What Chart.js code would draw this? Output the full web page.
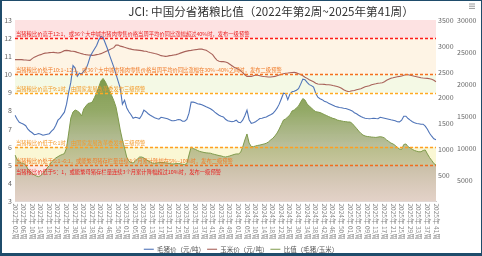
<!DOCTYPE html>
<html>
<head>
<meta charset="utf-8">
<script src="https://cdn.jsdelivr.net/npm/chart.js@4.4.1/dist/chart.umd.min.js"></script>
<style>
html, body { margin: 0; padding: 0; background: #fff; }
#wrap { position: relative; width: 482px; height: 256px; }
#frame { position: absolute; left: 0; top: 0; right: 0; bottom: 0; border-style: solid; border-color: #1f4c6b; border-width: 1px 1px 3px 2px; pointer-events: none; }
</style>
</head>
<body>
<div id="wrap"><canvas id="grafica" width="482" height="256"></canvas><div id="frame"></div></div>
<script>
// weeks: [year, first week, last week, skipped weeks]
var tramos = [[2022, 2, 53, []], [2023, 1, 52, []], [2024, 1, 53, [6]], [2025, 1, 41, []]];
var semanas = [];
tramos.forEach(t => {
    for (var w = t[1]; w <= t[2]; w++) {
        if (t[3].indexOf(w) >= 0) continue;
        semanas.push(t[0] + "年 " + (w < 10 ? "0" + w : w) + "周");
    }
});

// 毛猪价 (元/吨)
var precioCerdo = [
    15160, 14530, 14060, 13900, 13750, 13520, 12970, 12660, 12420, 12110,
    12190, 12290, 12190, 12030, 12110, 12190, 12270, 12660, 12970, 13590,
    14380, 14690, 15160, 15630, 16880, 18750, 20310, 22890, 22500, 21250,
    21720, 21560, 22030, 22340, 23200, 24300, 24920, 25470, 26020, 26880,
    27420, 27270, 26410, 25550, 24530, 23590, 22660, 21560, 20470, 19380,
    16880, 17500, 16330, 15700, 15230, 14690, 14840, 14770, 14640, 15160,
    15940, 15700, 15390, 15160, 14950, 14770, 14640, 14530, 14840, 14770,
    14690, 14610, 14450, 14300, 14300, 14380, 14480, 14450, 14220, 14220,
    14480, 15470, 17190, 17190, 17110, 16950, 16880, 16800, 16640, 16480,
    16330, 16170, 15940, 15630, 15390, 15160, 15000, 14890, 14530, 14300,
    14220, 14140, 14220, 14380, 14060, 13980, 14380, 15080, 15940, 14450,
    13900, 13980, 14140, 14380, 14640, 14690, 14800, 14890, 15080, 15230,
    15420, 15780, 16250, 16880, 17730, 18590, 18520, 17580, 18440, 18830,
    18900, 19060, 19300, 20000, 20780, 20700, 20270, 19920, 19770, 19530,
    18590, 17970, 17730, 17580, 17340, 17230, 17030, 16880, 16720, 16560,
    16450, 16360, 16330, 16250, 16200, 16090, 15980, 15830, 15550, 15390,
    15160, 14950, 14800, 14690, 14640, 14610, 14640, 14690, 14640, 14610,
    14840, 14770, 14690, 14610, 14530, 14450, 14380, 14300, 14140, 14110,
    14380, 15000, 15000, 14640, 14380, 14140, 13980, 13860, 13830, 13750,
    13750, 13440, 12970, 12340, 11880, 11480, 11330
];

// 玉米价 (元/吨)
var precioMaiz = [
    2735, 2735, 2735, 2735, 2731, 2729, 2725, 2722, 2755, 2784,
    2803, 2822, 2832, 2851, 2861, 2865, 2870, 2874, 2876, 2870,
    2865, 2870, 2890, 2909, 2915, 2909, 2900, 2896, 2890, 2876,
    2865, 2851, 2841, 2832, 2826, 2822, 2818, 2822, 2832, 2841,
    2851, 2870, 2890, 2909, 2928, 2948, 2967, 3015, 3019, 2996,
    2986, 2973, 2961, 2948, 2938, 2928, 2923, 2919, 2915, 2909,
    2900, 2896, 2884, 2874, 2865, 2855, 2846, 2832, 2813, 2807,
    2799, 2803, 2813, 2818, 2826, 2832, 2846, 2861, 2876, 2890,
    2900, 2909, 2915, 2923, 2928, 2934, 2942, 2938, 2928, 2915,
    2890, 2861, 2832, 2774, 2726, 2703, 2697, 2697, 2690, 2677,
    2648, 2619, 2590, 2571, 2552, 2523, 2484, 2445, 2412, 2412,
    2412, 2426, 2439, 2435, 2426, 2416, 2410, 2407, 2401, 2401,
    2407, 2412, 2426, 2439, 2451, 2465, 2474, 2478, 2484, 2488,
    2490, 2480, 2465, 2449, 2426, 2397, 2374, 2349, 2329, 2310,
    2281, 2265, 2262, 2262, 2258, 2252, 2252, 2246, 2236, 2227,
    2217, 2204, 2184, 2155, 2136, 2122, 2126, 2136, 2142, 2155,
    2165, 2175, 2194, 2213, 2223, 2233, 2252, 2262, 2271, 2281,
    2285, 2291, 2310, 2339, 2358, 2378, 2387, 2397, 2407, 2412,
    2420, 2435, 2445, 2445, 2435, 2426, 2416, 2407, 2397, 2387,
    2381, 2378, 2374, 2368, 2358, 2339, 2310
];

// 比值 (毛猪/玉米)
var razon = [
    5.56, 5.31, 5.18, 5.12, 5.10, 5.01, 4.79, 4.68, 4.54, 4.46,
    4.40, 4.37, 4.43, 4.54, 4.68, 4.85, 4.98, 5.18, 5.29, 5.40,
    5.47, 5.54, 5.59, 5.64, 5.95, 6.77, 7.60, 7.93, 8.04, 7.99,
    7.90, 7.71, 8.10, 8.26, 8.40, 8.43, 8.48, 8.73, 8.98, 9.31,
    9.64, 9.78, 9.61, 9.36, 9.12, 8.84, 8.56, 8.21, 7.60, 6.94,
    6.39, 5.95, 5.45, 5.23, 5.15, 5.12, 5.23, 5.34, 5.45, 5.45,
    5.40, 5.31, 5.23, 5.18, 5.12, 5.10, 5.12, 5.14, 5.15, 5.15,
    5.13, 5.12, 5.09, 5.07, 5.07, 5.09, 5.09, 5.08, 5.05, 5.04,
    5.09, 5.56, 6.00, 5.92, 5.87, 5.81, 5.76, 5.73, 5.70, 5.68,
    5.67, 5.66, 5.62, 5.59, 5.56, 5.53, 5.51, 5.47, 5.45, 5.48,
    5.51, 5.55, 5.59, 5.62, 5.62, 5.70, 6.00, 6.39, 6.72, 6.22,
    6.03, 6.02, 6.06, 6.09, 6.11, 6.14, 6.17, 6.21, 6.28, 6.39,
    6.48, 6.61, 6.77, 6.99, 7.24, 7.49, 7.55, 7.66, 7.77, 7.99,
    8.04, 8.15, 8.26, 8.48, 8.67, 8.59, 8.37, 8.26, 8.15, 8.04,
    7.95, 7.93, 7.90, 7.85, 7.79, 7.74, 7.68, 7.63, 7.58, 7.55,
    7.49, 7.46, 7.44, 7.41, 7.40, 7.38, 7.38, 7.30, 7.16, 7.03,
    6.88, 6.76, 6.66, 6.61, 6.58, 6.57, 6.55, 6.54, 6.53, 6.55,
    6.57, 6.55, 6.50, 6.39, 6.31, 6.22, 6.17, 6.09, 5.98, 5.89,
    5.87, 6.14, 6.17, 6.02, 5.95, 5.87, 5.81, 5.77, 5.74, 5.74,
    5.81, 5.84, 5.62, 5.42, 5.26, 5.09, 5.01
];

var ticksCerdo = [5000, 10000, 15000, 20000, 25000, 30000];

// warning bands on the ratio axis: [from, to, colour]
var franjas = [
    [12, 13, 'rgba(253,226,226,1)'],
    [10, 12, 'rgba(254,244,229,1)'],
    [9, 10, 'rgba(244,249,229,1)'],
    [5, 6, 'rgba(250,247,212,1)'],
    [3, 5, 'rgba(252,232,228,1)']
];
// warning lines: [value, line colour, text colour, text, text above(1)/below(-1)]
var avisos = [
    [12, '#ff1a1a', '#e82020', '当猪粮比价高于12:1，或36个大中城市猪肉零售价格当周平均价同比涨幅超过40%时，发布一级预警', 1],
    [10, '#f5701e', '#f07a28', '当猪粮比价处于10:1~12:1，或36个大中城市猪肉零售价格当周平均价同比涨幅在30%~40%之间时，发布二级预警', 1],
    [9, '#ffaa22', '#f39a2a', '当猪粮比价高于9:1时，由国家发展改革委发布三级预警', 1],
    [6, '#ffa020', '#f39a2a', '当猪粮比价低于6:1时，由国家发展改革委发布三级预警', 1],
    [5, '#f06e1e', '#f07a28', '当猪粮比价处于5:1~6:1，或能繁母猪存栏量连续3个月累计降幅在5%~10%时，发布二级预警', 1],
    [5, null, '#e82020', '当猪粮比价低于5：1，或能繁母猪存栏量连续3个月累计降幅超过10%时，发布一级预警', -1]
];

var fuente = '"Noto Sans CJK SC", "Noto Sans", sans-serif';
Chart.defaults.font.family = fuente;

var avisosPlugin = {
    id: 'avisos',
    beforeDatasetsDraw(chart) {
        var ctx = chart.ctx, a = chart.chartArea, y = chart.scales.y;
        ctx.save();
        franjas.forEach(f => {
            var y1 = y.getPixelForValue(f[1]), y0 = y.getPixelForValue(f[0]);
            ctx.fillStyle = f[2];
            ctx.fillRect(a.left, y1, a.right - a.left, y0 - y1);
        });
        ctx.restore();
    },
    afterDatasetsDraw(chart) {
        var ctx = chart.ctx, a = chart.chartArea, y = chart.scales.y;
        ctx.save();
        avisos.forEach(v => {
            var py = Math.round(y.getPixelForValue(v[0])) + 0.5;
            if (v[1]) {
                ctx.strokeStyle = v[1];
                ctx.lineWidth = 1.6;
                ctx.setLineDash([3, 2]);
                ctx.beginPath();
                ctx.moveTo(a.left, py);
                ctx.lineTo(a.right, py);
                ctx.stroke();
            }
            ctx.font = '5.3px ' + fuente;
            ctx.fillStyle = v[2];
            ctx.textAlign = 'left';
            ctx.textBaseline = 'middle';
            ctx.fillText(v[3], a.left + 1, py - v[4] * 4.5 + (v[4] < 0 ? 1.5 : 0));
        });
        ctx.restore();
    },
    afterDraw(chart) {
        var ctx = chart.ctx, x = chart.scales.x;
        ctx.save();
        // title
        ctx.font = '11.6px ' + fuente;
        ctx.fillStyle = '#333';
        ctx.textAlign = 'center';
        ctx.textBaseline = 'middle';
        ctx.fillText('JCI: 中国分省猪粮比值（2022年第2周~2025年第41周）', 271, 12);
        // week labels, rotated downwards
        ctx.font = '6.5px ' + fuente;
        ctx.fillStyle = '#888';
        ctx.textAlign = 'left';
        semanas.forEach((s, i) => {
            if (i % 4) return;
            ctx.save();
            ctx.translate(x.getPixelForValue(i), x.top + 2);
            ctx.rotate(Math.PI / 2);
            ctx.fillText(s, 0, 0);
            ctx.restore();
        });
        // menu icon
        ctx.fillStyle = '#999';
        for (var k = 0; k < 3; k++) ctx.fillRect(469, 3.5 + k * 2.2, 6, 1);
        ctx.restore();
    }
};

var degradado = function(c) {
    var chart = c.chart, a = chart.chartArea;
    if (!a) return 'rgba(120,150,60,0.6)';
    var g = chart.ctx.createLinearGradient(0, a.top, 0, a.bottom);
    g.addColorStop(0, 'rgba(75,115,15,0.92)');
    g.addColorStop(0.5, 'rgba(110,140,50,0.74)');
    g.addColorStop(0.8, 'rgba(150,150,105,0.5)');
    g.addColorStop(1, 'rgba(170,160,135,0.3)');
    return g;
};

new Chart(document.getElementById('grafica'), {
    type: 'line',
    data: {
        labels: semanas,
        datasets: [
            {
                label: '毛猪价（元/吨）',
                data: precioCerdo,
                yAxisID: 'y2',
                borderColor: '#4f74b8',
                backgroundColor: '#4f74b8',
                borderWidth: 1.1,
                pointRadius: 0,
                fill: false
            },
            {
                label: '玉米价（元/吨）',
                data: precioMaiz,
                yAxisID: 'y1',
                borderColor: '#a8625a',
                backgroundColor: '#a8625a',
                borderWidth: 1.1,
                pointRadius: 0,
                fill: false
            },
            {
                label: '比值（毛猪/玉米）',
                data: razon,
                yAxisID: 'y',
                borderColor: '#7f9a4c',
                backgroundColor: degradado,
                borderWidth: 1,
                pointRadius: 0,
                fill: 'start'
            }
        ]
    },
    options: {
        responsive: false,
        animation: false,
        layout: { padding: { top: 20, left: 0, right: 0, bottom: 0 } },
        plugins: {
            tooltip: { enabled: false },
            legend: {
                position: 'bottom',
                maxHeight: 12,
                labels: {
                    usePointStyle: true,
                    pointStyle: 'line',
                    pointStyleWidth: 10,
                    font: { size: 6.5 },
                    color: '#555',
                    padding: 2
                }
            }
        },
        scales: {
            x: {
                ticks: { display: false },
                grid: { display: false, drawTicks: false },
                border: { display: true, color: '#ccc' },
                afterFit: s => { s.height = 42.5; }
            },
            y: {
                position: 'left',
                min: 3,
                max: 13,
                ticks: { stepSize: 1, font: { size: 7 }, color: '#666', padding: 3 },
                grid: { display: false, drawTicks: false },
                border: { display: false },
                afterFit: s => { s.width = 15; }
            },
            y1: {
                position: 'right',
                min: 0,
                max: 3500,
                ticks: { stepSize: 500, font: { size: 7 }, color: '#666', padding: 2, callback: v => v === 0 ? '' : String(v) },
                grid: { display: false, drawTicks: false },
                border: { display: false },
                afterFit: s => { s.width = 19; }
            },
            y2: {
                position: 'right',
                min: 1700,
                max: 30000,
                afterBuildTicks: s => { s.ticks = ticksCerdo.map(v => ({ value: v })); },
                ticks: { font: { size: 7 }, color: '#666', padding: 2, callback: v => String(v) },
                grid: { display: false, drawTicks: false },
                border: { display: false },
                afterFit: s => { s.width = 27; }
            }
        }
    },
    plugins: [avisosPlugin]
});
</script>
</body>
</html>
